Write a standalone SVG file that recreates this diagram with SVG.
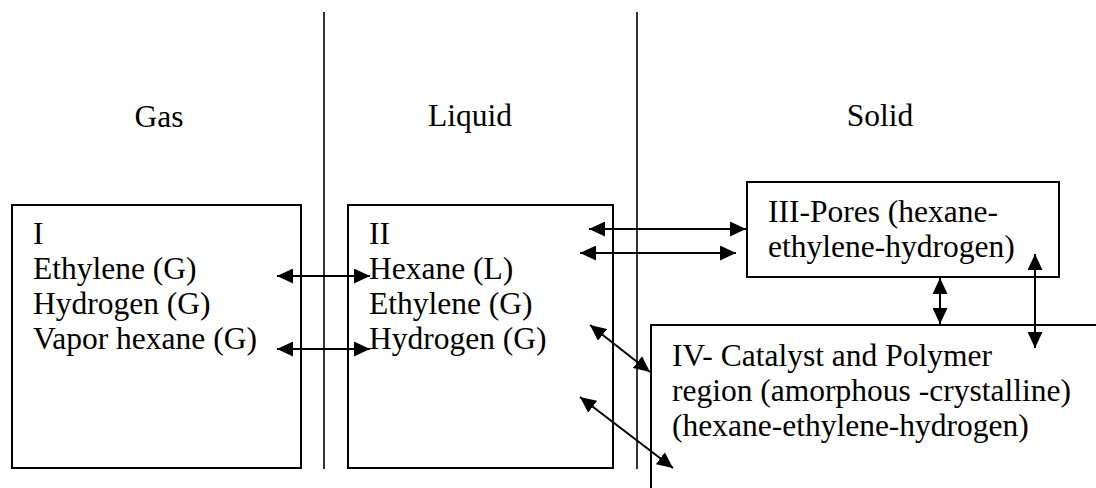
<svg xmlns="http://www.w3.org/2000/svg" width="1096" height="488" viewBox="0 0 1096 488">
<style>
.t{font-family:'Liberation Serif','Times New Roman','DejaVu Serif',serif;font-size:31.5px;fill:#000}
.box{fill:none;stroke:#000;stroke-width:2}
.div{stroke:#000;stroke-width:1.6;fill:none}
.arr{stroke:#000;stroke-width:2;fill:none;marker-start:url(#ah);marker-end:url(#ah)}
</style>
<defs>
<marker id="ah" markerUnits="userSpaceOnUse" markerWidth="17" markerHeight="15" refX="16" refY="7.5" orient="auto-start-reverse">
<path d="M0,0 L16,7.5 L0,15 z" fill="#000"/>
</marker>
</defs>
<rect width="1096" height="488" fill="#fff"/>
<g id="dividers">
<line class="div" x1="324" y1="12" x2="324" y2="469"/>
<line class="div" x1="637" y1="12" x2="637" y2="469"/>
</g>
<g id="phase-labels" class="t" font-family="Liberation Serif, Times New Roman, serif">
<text x="159" y="127" text-anchor="middle">Gas</text>
<text x="470" y="126" text-anchor="middle">Liquid</text>
<text x="880" y="126" text-anchor="middle">Solid</text>
</g>
<g id="node-I">
<rect class="box" x="12" y="205" width="289" height="263"/>
<g class="t" font-family="Liberation Serif, Times New Roman, serif">
<text x="33" y="244">I</text>
<text x="33" y="279">Ethylene (G)</text>
<text x="33" y="314">Hydrogen (G)</text>
<text x="33" y="349">Vapor hexane (G)</text>
</g>
</g>
<g id="node-II">
<rect class="box" x="348" y="205" width="265" height="263"/>
<g class="t" font-family="Liberation Serif, Times New Roman, serif">
<text x="369" y="244">II</text>
<text x="369" y="279">Hexane (L)</text>
<text x="369" y="314">Ethylene (G)</text>
<text x="369" y="349">Hydrogen (G)</text>
</g>
</g>
<g id="node-III">
<rect class="box" x="747" y="182" width="312" height="95"/>
<g class="t" font-family="Liberation Serif, Times New Roman, serif">
<text x="768" y="222">III-Pores (hexane-</text>
<text x="768" y="257">ethylene-hydrogen)</text>
</g>
</g>
<g id="node-IV">
<path class="box" d="M651,488 L651,325 L1096,325"/>
<g class="t" font-family="Liberation Serif, Times New Roman, serif">
<text x="672" y="366">IV- Catalyst and Polymer</text>
<text x="672" y="401">region (amorphous -crystalline)</text>
<text x="672" y="436">(hexane-ethylene-hydrogen)</text>
</g>
</g>
<g id="connectors">
<line class="arr" x1="277" y1="276" x2="370" y2="276"/>
<line class="arr" x1="277" y1="349" x2="370" y2="349"/>
<line class="arr" x1="589" y1="229" x2="746" y2="229"/>
<line class="arr" x1="580" y1="253" x2="736" y2="253"/>
<line class="arr" x1="590" y1="325" x2="650" y2="372"/>
<line class="arr" x1="580" y1="397" x2="673" y2="468"/>
<line class="arr" x1="940" y1="278" x2="940" y2="324"/>
<line class="arr" x1="1035" y1="254" x2="1035" y2="348"/>
</g>
</svg>
